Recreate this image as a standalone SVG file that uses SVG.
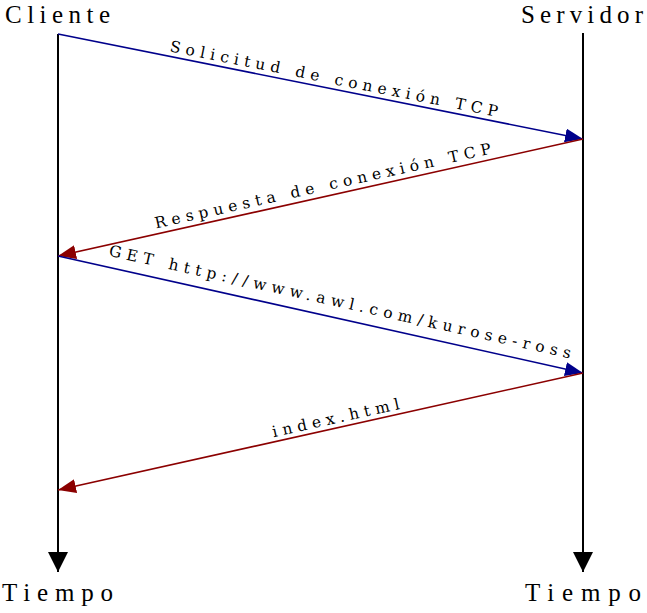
<svg xmlns="http://www.w3.org/2000/svg" width="647" height="613" viewBox="0 0 647 613">
<style>
.title{font-family:"Liberation Serif","DejaVu Serif",serif;font-size:25px;fill:#000;text-anchor:middle}
.lbl{font-family:"DejaVu Serif","Liberation Serif",serif;font-size:15.5px;fill:#000;text-anchor:middle}
.time{stroke:#000;stroke-width:2;fill:none}
.blue{stroke:#00008B;stroke-width:1.6;fill:none}
.red{stroke:#8B0000;stroke-width:1.6;fill:none}
</style>
<defs>
<marker id="ab" markerUnits="userSpaceOnUse" markerWidth="20" markerHeight="20" refX="18" refY="7" orient="auto"><path d="M0,0 L18,7 L0,14 z" fill="#00008B"/></marker>
<marker id="ar" markerUnits="userSpaceOnUse" markerWidth="20" markerHeight="20" refX="18" refY="7" orient="auto"><path d="M0,0 L18,7 L0,14 z" fill="#8B0000"/></marker>
<marker id="ak" markerUnits="userSpaceOnUse" markerWidth="22" markerHeight="22" refX="20" refY="10" orient="auto"><path d="M0,0 L20,10 L0,20 z" fill="#000"/></marker>
</defs>
<g id="cliente">
<text class="title" x="57.5" y="23" textLength="105" lengthAdjust="spacing">Cliente</text>
<line class="time" x1="58" y1="34" x2="58" y2="572" marker-end="url(#ak)"/>
<text class="title" x="57.5" y="601" textLength="111" lengthAdjust="spacing">Tiempo</text>
</g>
<g id="servidor">
<text class="title" x="582" y="23" textLength="122" lengthAdjust="spacing">Servidor</text>
<line class="time" x1="583" y1="33" x2="583" y2="572" marker-end="url(#ak)"/>
<text class="title" x="583" y="601" textLength="116" lengthAdjust="spacing">Tiempo</text>
</g>
<g id="connectors">
<line class="blue" x1="58" y1="34" x2="583" y2="139" marker-end="url(#ab)"/>
<text class="lbl" x="333" y="84" textLength="334" lengthAdjust="spacing" transform="rotate(11.31 333 84)">Solicitud de conexión TCP</text>
<line class="red" x1="583" y1="139" x2="58" y2="256" marker-end="url(#ar)"/>
<text class="lbl" x="324" y="191" textLength="344" lengthAdjust="spacing" transform="rotate(-12.56 324 191)">Respuesta de conexión TCP</text>
<line class="blue" x1="58" y1="256" x2="583" y2="373" marker-end="url(#ab)"/>
<text class="lbl" x="339" y="307" textLength="473" lengthAdjust="spacing" transform="rotate(12.56 339 307)">GET http://www.awl.com/kurose-ross</text>
<line class="red" x1="583" y1="373" x2="58" y2="490" marker-end="url(#ar)"/>
<text class="lbl" x="337" y="423" textLength="130" lengthAdjust="spacing" transform="rotate(-12.56 337 423)">index.html</text>
</g>
</svg>
